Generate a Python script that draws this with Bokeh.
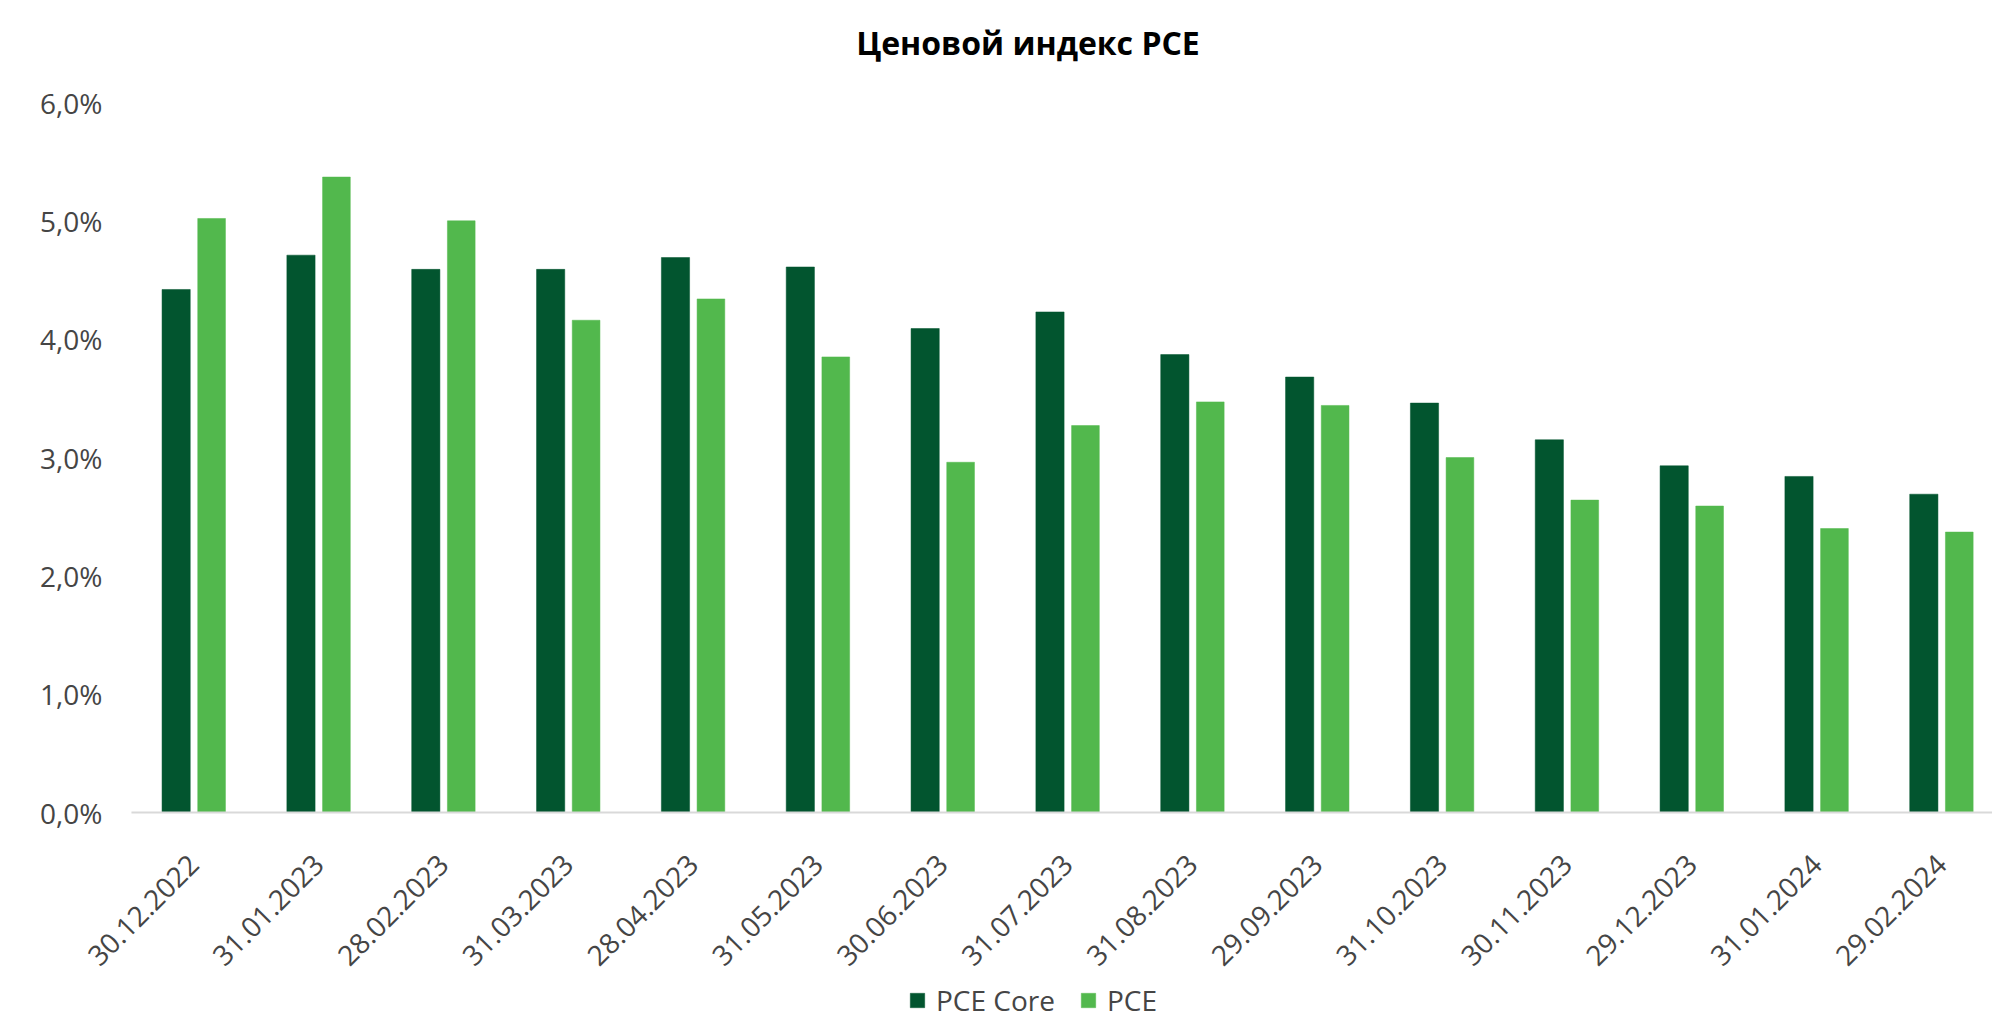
import numpy as np
from bokeh.plotting import figure
from bokeh.models import Range1d, FixedTicker, Legend, LegendItem, Label
from bokeh.embed import file_html
from bokeh.resources import INLINE

# ---- data -------------------------------------------------------------
title_text = "Ценовой индекс PCE"
dates = ["30.12.2022", "31.01.2023", "28.02.2023", "31.03.2023", "28.04.2023",
         "31.05.2023", "30.06.2023", "31.07.2023", "31.08.2023", "29.09.2023",
         "31.10.2023", "30.11.2023", "29.12.2023", "31.01.2024", "29.02.2024"]
pce_core = [4.42, 4.71, 4.59, 4.59, 4.69, 4.61, 4.09, 4.23, 3.87, 3.68,
            3.46, 3.15, 2.93, 2.84, 2.69]
pce = [5.02, 5.37, 5.00, 4.16, 4.34, 3.85, 2.96, 3.27, 3.47, 3.44,
       3.00, 2.64, 2.59, 2.40, 2.37]
series_names = ["PCE Core", "PCE"]
y_ticks = [0, 1, 2, 3, 4, 5, 6]
y_tick_labels = ["0,0%", "1,0%", "2,0%", "3,0%", "4,0%", "5,0%", "6,0%"]

# ---- style ------------------------------------------------------------
FONT = "Open Sans"
DARK = "#02552F"
LIGHT = "#52B84D"
TXT = "#454545"

idx = np.arange(len(dates))
x_start, x_end = -1.549, 14.408      # plot area begins at category edge -0.5
y_start, y_end = -1.749, 6.862       # value axis 0..6 sits in the middle band

# The frame fills the whole canvas; axes are drawn at fixed locations so
# that the rotated date labels and the legend are not clipped.
p = figure(width=1992, height=1019, output_backend="svg", toolbar_location=None,
           x_range=Range1d(x_start, x_end), y_range=Range1d(y_start, y_end),
           min_border_left=0, min_border_right=0, min_border_top=0,
           min_border_bottom=0)
p.outline_line_color = None
p.grid.grid_line_color = None
p.background_fill_color = "white"
p.border_fill_color = "white"

r_core = p.vbar(x=idx - 0.142, top=pce_core, width=0.226, fill_color=DARK,
                line_color=DARK, line_width=0.5)
r_pce = p.vbar(x=idx + 0.142, top=pce, width=0.222, fill_color=LIGHT,
               line_color=LIGHT, line_width=0.5)

# category axis baseline (from the first category edge to the right edge)
p.segment(x0=[idx[0] - 0.5], y0=[0], x1=[x_end], y1=[0],
          line_color="#D9D9D9", line_width=2)

# x axis, drawn at value 0
xa = p.xaxis[0]
xa.fixed_location = 0
xa.ticker = FixedTicker(ticks=list(idx))
xa.major_label_overrides = {int(i): d for i, d in zip(idx, dates)}
xa.major_label_orientation = np.pi / 4
xa.major_tick_line_color = None
xa.minor_tick_line_color = None
xa.major_tick_out = 0
xa.minor_tick_out = 0
xa.axis_line_color = None
xa.major_label_text_font = FONT
xa.major_label_text_font_size = "28px"
xa.major_label_text_color = TXT
xa.major_label_standoff = 47

# y axis, drawn at the left edge of the category area
ya = p.yaxis[0]
ya.fixed_location = idx[0] - 0.5
ya.ticker = FixedTicker(ticks=y_ticks)
ya.major_label_overrides = {t: l for t, l in zip(y_ticks, y_tick_labels)}
ya.axis_line_color = None
ya.major_tick_line_color = None
ya.minor_tick_line_color = None
ya.major_tick_out = 0
ya.minor_tick_out = 0
ya.major_label_text_font = FONT
ya.major_label_text_font_size = "28px"
ya.major_label_text_color = TXT
ya.major_label_standoff = 29

# title
title = Label(x=1027.5, y=977, x_units="screen", y_units="screen", text=title_text,
              text_font=FONT, text_font_size="32px", text_font_style="bold",
              text_color="#000000", text_align="center", text_baseline="alphabetic")
p.add_layout(title)

# legend
legend = Legend(items=[LegendItem(label=series_names[0], renderers=[r_core]),
                       LegendItem(label=series_names[1], renderers=[r_pce])],
                orientation="horizontal", location=(908, 0),
                glyph_width=18, glyph_height=18, label_standoff=10, spacing=24,
                padding=0, margin=0, border_line_color=None,
                background_fill_alpha=0,
                label_text_font=FONT, label_text_font_size="28px",
                label_text_color=TXT)
p.add_layout(legend, "center")

open("out.html", "w").write(file_html(p, INLINE))
